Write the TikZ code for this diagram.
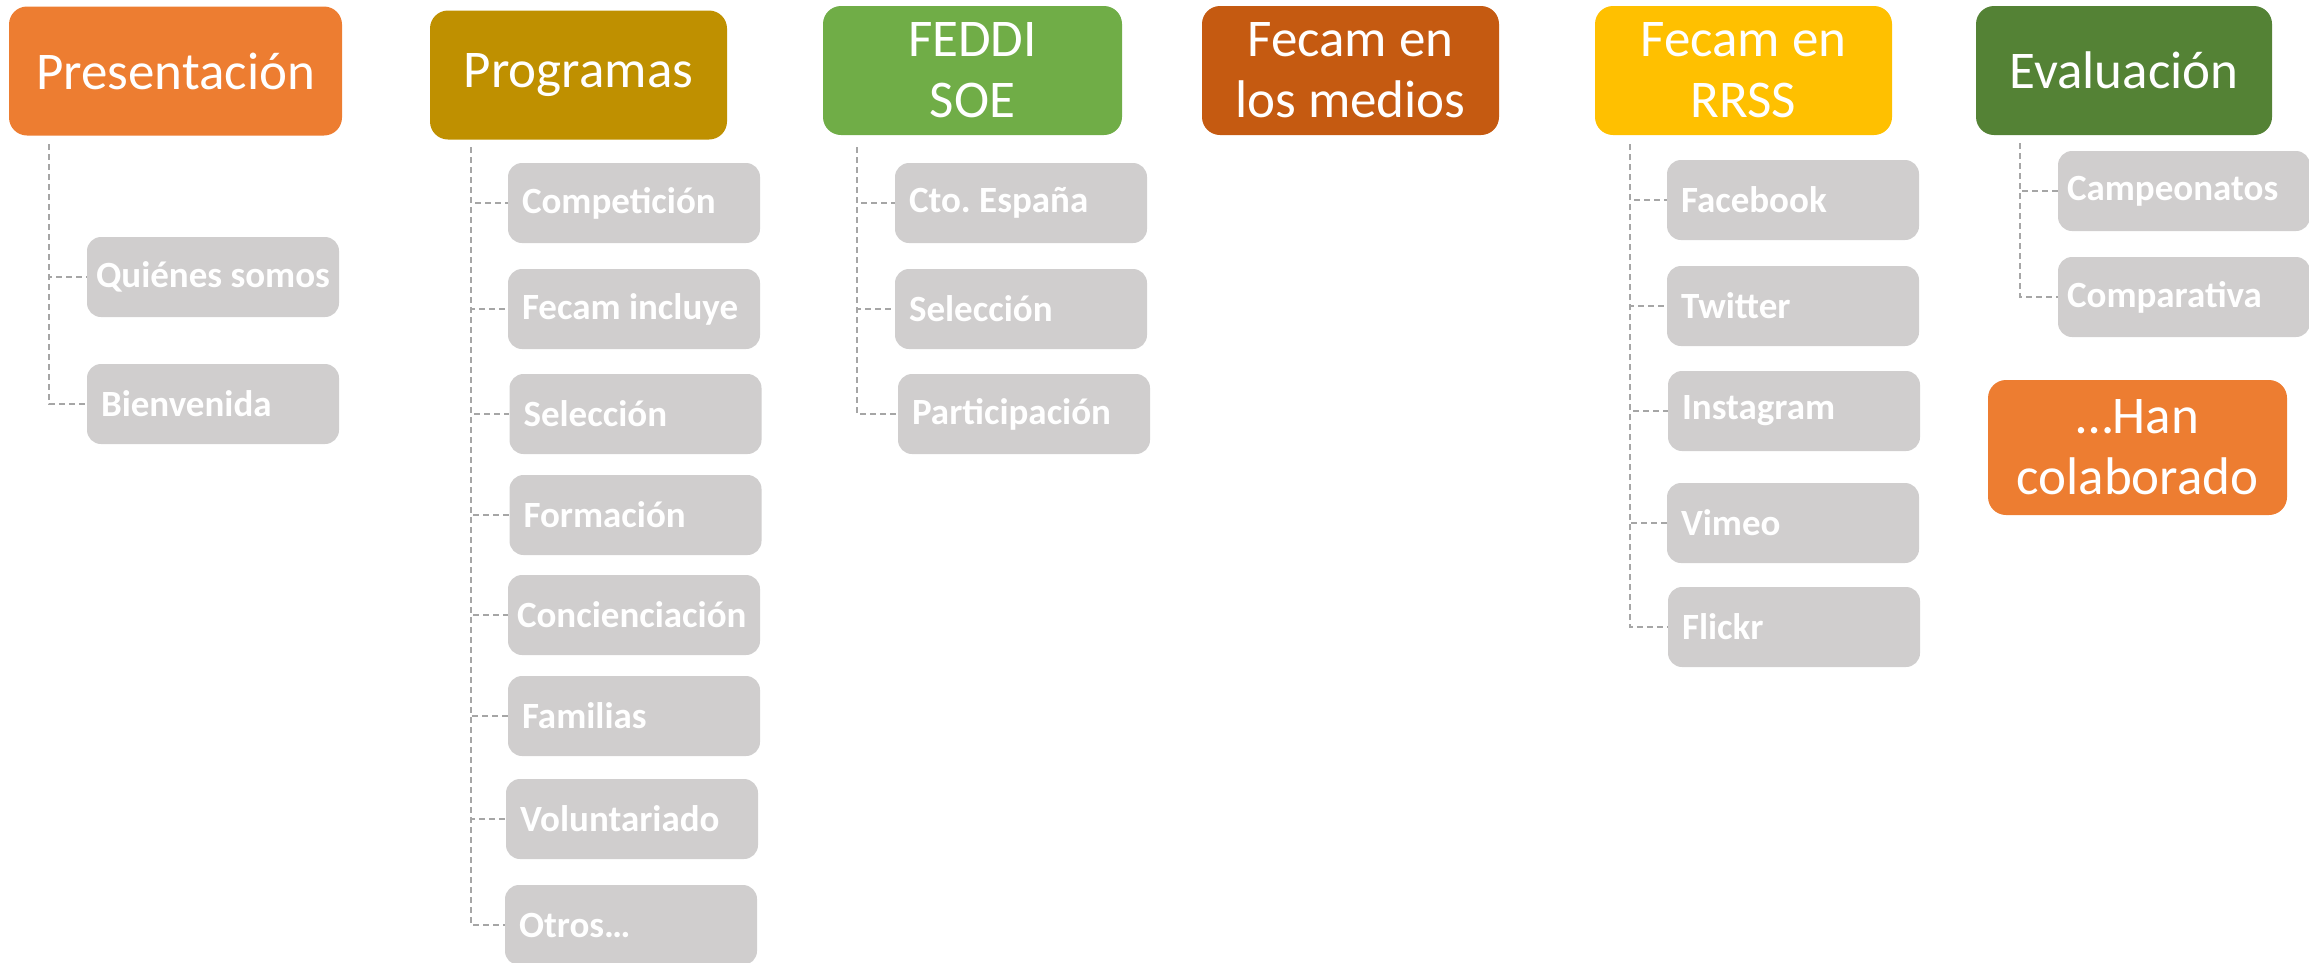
\documentclass[tikz,border=0pt]{standalone}
\usepackage{fontspec}
\setmainfont{Carlito}
\definecolor{cPres}{HTML}{ED7D31}
\definecolor{cProg}{HTML}{BF9000}
\definecolor{cFeddi}{HTML}{70AD47}
\definecolor{cMedios}{HTML}{C55A11}
\definecolor{cRrss}{HTML}{FFC000}
\definecolor{cEval}{HTML}{548235}
\definecolor{boxgray}{HTML}{D0CECE}
\definecolor{linegray}{HTML}{A6A6A6}
\tikzset{
  parent/.style={rounded corners=18pt, minimum height=129pt, text=white, align=center,
    font=\fontsize{53}{61}\selectfont, inner sep=0pt},
  child/.style={fill=boxgray, rounded corners=14pt, minimum width=252pt, minimum height=80pt,
    text width=224pt, inner xsep=14pt, inner ysep=0pt, align=flush left, text=white,
    font=\bfseries\fontsize{37}{44}\selectfont\frenchspacing},
  tightchild/.style={child, text width=234pt, inner xsep=9pt},
  conn/.style={draw=linegray, line width=1.5pt, dash pattern=on 6pt off 4pt}
}
\begin{document}
\begin{tikzpicture}[x=1pt,y=-1pt]
\useasboundingbox (0,0) rectangle (2309,962);
% parents
\node[parent, fill=cPres, minimum width=333pt] (pres) at (175.5,71) {Presentación};
\node[parent, fill=cProg, minimum width=297pt] (prog) at (578.5,75) {Programas};
\node[parent, fill=cFeddi, minimum width=299pt] (feddi) at (972.5,70.5) {FEDDI\\SOE};
\node[parent, fill=cMedios, minimum width=297pt] (medios) at (1350.5,70.5) {Fecam en\\los medios};
\node[parent, fill=cRrss, minimum width=297pt] (rrss) at (1743.5,70.5) {Fecam en\\RRSS};
\node[parent, fill=cEval, minimum width=296pt] (eval) at (2124,70.5) {Evaluación};
\node[parent, fill=cPres, minimum width=299pt, minimum height=135pt] (han) at (2137.5,447.5) {…Han\\colaborado};
% children
\node[tightchild] (quien) at (213,277) {\mbox{Quiénes somos}};
\node[child] (bien) at (213,404) {Bienvenida};
\node[child] (comp) at (634,203) {Competición};
\node[child] (incl) at (634,309) {\mbox{Fecam incluye}};
\node[child] (sel) at (635.5,414) {Selección};
\node[child] (form) at (635.5,515) {Formación};
\node[tightchild] (conc) at (634,615) {\mbox{Concienciación}};
\node[child] (fam) at (634,716) {Familias};
\node[child] (vol) at (632,819) {Voluntariado};
\node[child] (otros) at (631,925) {Otros…};
\node[child] (cto) at (1021,203) {\mbox{Cto. España}};
\node[child] (fsel) at (1021,309) {Selección};
\node[child] (part) at (1024,414) {Participación};
\node[child] (face) at (1793,200) {Facebook};
\node[child] (twit) at (1793,306) {Twitter};
\node[child] (insta) at (1794,411) {Instagram};
\node[child] (vimeo) at (1793,523) {Vimeo};
\node[child] (flickr) at (1794,627) {Flickr};
\node[tightchild] (camp) at (2184,191) {Campeonatos};
\node[tightchild] (compa) at (2184,297) {Comparativa};
% connector tops
\coordinate (presT) at (49,144);
\coordinate (progT) at (471,147);
\coordinate (feddiT) at (857,147);
\coordinate (rrssT) at (1630,144);
\coordinate (evalT) at (2020,143);
\foreach \c in {quien,bien} \draw[conn] (presT) |- (\c.west);
\foreach \c in {comp,incl,sel,form,conc,fam,vol,otros} \draw[conn] (progT) |- (\c.west);
\foreach \c in {cto,fsel,part} \draw[conn] (feddiT) |- (\c.west);
\foreach \c in {face,twit,insta,vimeo,flickr} \draw[conn] (rrssT) |- (\c.west);
\foreach \c in {camp,compa} \draw[conn] (evalT) |- (\c.west);
\end{tikzpicture}
\end{document}
